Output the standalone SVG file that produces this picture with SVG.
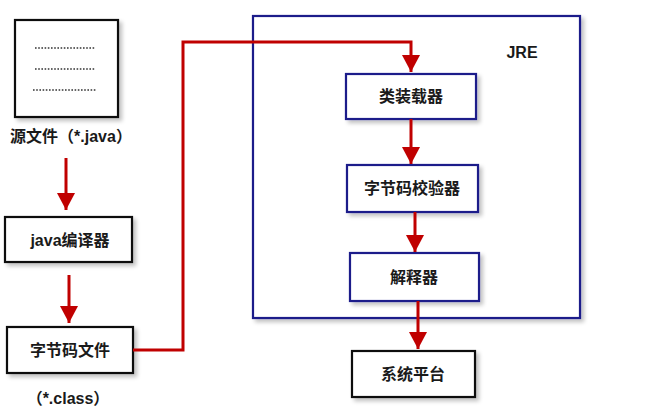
<svg xmlns="http://www.w3.org/2000/svg" width="650" height="418" viewBox="0 0 650 418">
<defs>
<marker id="arr" viewBox="0 0 18 18" refX="17" refY="9" markerWidth="18" markerHeight="18" orient="auto" markerUnits="userSpaceOnUse">
<path d="M0,0 L17,9 L0,18 Z" fill="#c00000"/>
</marker>
<filter id="sh" x="-10%" y="-10%" width="130%" height="140%">
<feGaussianBlur in="SourceAlpha" stdDeviation="2"/>
<feOffset dx="3" dy="3"/>
<feComponentTransfer><feFuncA type="linear" slope="0.25"/></feComponentTransfer>
<feMerge><feMergeNode/><feMergeNode in="SourceGraphic"/></feMerge>
</filter>
</defs>
<style>
.bk{fill:#fff;stroke:#111;stroke-width:2.2;filter:url(#sh)}
.bl{fill:#fff;stroke:#1c1c8a;stroke-width:2.2;filter:url(#sh)}
.t{font-family:"Liberation Sans","Noto Sans CJK SC",sans-serif;font-size:16px;font-weight:bold;fill:#1a1a1a;text-anchor:middle}
.c{fill:none;stroke:#c00000;stroke-width:3;marker-end:url(#arr)}
.dot{stroke:#333;stroke-width:1.6;stroke-dasharray:1.6 1.6}
</style>
<rect width="650" height="418" fill="#fff"/>
<g id="jre">
<rect class="bl" x="253" y="16" width="327" height="302"/>
<text class="t" x="522" y="58">JRE</text>
</g>
<g id="source">
<rect class="bk" x="15" y="20" width="103" height="97"/>
<line class="dot" x1="35" y1="48" x2="95" y2="48"/>
<line class="dot" x1="35" y1="69" x2="95" y2="69"/>
<line class="dot" x1="33" y1="90" x2="97" y2="90"/>
<text class="t" x="71" y="142">源文件（*.java）</text>
</g>
<g id="compiler">
<rect class="bk" x="5" y="217" width="127" height="45"/>
<text class="t" x="70" y="246">java编译器</text>
</g>
<g id="bytecode">
<rect class="bk" x="7" y="327" width="126" height="46"/>
<text class="t" x="70" y="356">字节码文件</text>
<text class="t" x="68" y="404">（*.class）</text>
</g>
<g id="loader">
<rect class="bl" x="346" y="74" width="130" height="45"/>
<text class="t" x="411" y="102">类装载器</text>
</g>
<g id="verifier">
<rect class="bl" x="347" y="165" width="131" height="47"/>
<text class="t" x="412" y="194">字节码校验器</text>
</g>
<g id="interpreter">
<rect class="bl" x="350" y="253" width="129" height="48"/>
<text class="t" x="414" y="283">解释器</text>
</g>
<g id="platform">
<rect class="bk" x="352" y="351" width="123" height="46"/>
<text class="t" x="413" y="380">系统平台</text>
</g>
<g id="connectors">
<path class="c" d="M66,158 L66,210"/>
<path class="c" d="M69,275 L69,323"/>
<path class="c" d="M133,350 L183,350 L183,42 L411,42 L411,72"/>
<path class="c" d="M411,119 L411,164"/>
<path class="c" d="M415,212 L415,252"/>
<path class="c" d="M418,301 L418,349"/>
</g>
</svg>
